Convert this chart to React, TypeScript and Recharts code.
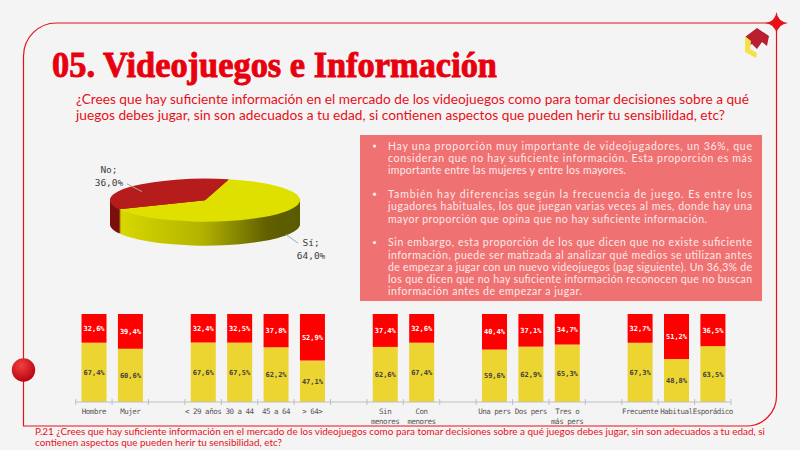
import React from 'react'
import { Bar, BarChart, Cell, LabelList, Pie, PieChart, XAxis, YAxis } from 'recharts'

// categories on the bar axis ('' = spacer between groups)
const groups = [
  'Hombre', 'Mujer', '',
  '< 29 años', '30 a 44', '45 a 64', '> 64>', '',
  'Sin\nmenores', 'Con\nmenores', '',
  'Una pers', 'Dos pers', 'Tres o\nmás pers', '',
  'Frecuente', 'Habitual', 'Esporádico',
]
const siValues = [67.4, 60.6, null, 67.6, 67.5, 62.2, 47.1, null, 62.6, 67.4, null, 59.6, 62.9, 65.3, null, 67.3, 48.8, 63.5]
const noValues = [32.6, 39.4, null, 32.4, 32.5, 37.8, 52.9, null, 37.4, 32.6, null, 40.4, 37.1, 34.7, null, 32.7, 51.2, 36.5]

const pieNames = ['Sí', 'No']
const pieValues = [64.0, 36.0]

const title = '05. Videojuegos e Información'
const question = [
  '¿Crees que hay suficiente información en el mercado de los videojuegos como para tomar decisiones sobre a qué',
  'juegos debes jugar, sin son adecuados a tu edad, si contienen aspectos que pueden herir tu sensibilidad, etc?',
]
const footnote = [
  'P.21 ¿Crees que hay suficiente información en el mercado de los videojuegos como para tomar decisiones sobre a qué juegos debes jugar, sin son adecuados a tu edad, si',
  'contienen aspectos que pueden herir tu sensibilidad, etc?',
]
const bullets = [
  [
    'Hay una proporción muy importante de videojugadores, un 36%, que',
    'consideran que no hay suficiente información. Esta proporción es más',
    'importante entre las mujeres y entre los mayores.',
  ],
  [
    'También hay diferencias según la frecuencia de juego. Es entre los',
    'jugadores habituales, los que juegan varias veces al mes, donde hay una',
    'mayor proporción que opina que no hay suficiente información.',
  ],
  [
    'Sin embargo, esta proporción de los que dicen que no existe suficiente',
    'información, puede ser matizada al analizar qué medios se utilizan antes',
    'de empezar a jugar con un nuevo videojuegos (pag siguiente). Un 36,3% de',
    'los que dicen que no hay suficiente información reconocen que no buscan',
    'información antes de empezar a jugar.',
  ],
]
// right edge of the last (unjustified) line of each bullet
const lastLineEnds = [626, 707, 582]

const RED = '#e8101a'
const YELLOW = '#ecd431'
const BAR_RED = '#ff0000'
const MONO = "'DejaVu Sans Mono', monospace"
const SANS = "Lato, 'Noto Sans', sans-serif"

const barData = groups.map((g, i) => ({ key: `c${i}`, si: siValues[i], no: noValues[i] }))
const pieData = pieNames.map((name, i) => ({ name, value: pieValues[i] }))

const fmtPct = (v: any) => (v == null ? '' : `${Number(v).toFixed(1).replace('.', ',')}%`)

// bar chart geometry
const BAR_W = 800
const BAR_H = 130
const BAR_MARGIN = { top: 14, right: 69, bottom: 0, left: 75.7 }
const BAND = (BAR_W - BAR_MARGIN.left - BAR_MARGIN.right) / groups.length

function GroupTick(props: any) {
  const { x, y, payload } = props
  const idx = Number(String(payload.value).slice(1))
  const lines = groups[idx].split('\n')
  return (
    <g>
      <line x1={x - BAND / 2} x2={x - BAND / 2} y1={y - 3} y2={y + 3} stroke="#bfbfbf" />
      {idx === groups.length - 1 && (
        <line x1={x + BAND / 2} x2={x + BAND / 2} y1={y - 3} y2={y + 3} stroke="#bfbfbf" />
      )}
      {lines.map((l, i) => (
        <text
          key={i}
          x={x}
          y={y + 12 + i * 10}
          textAnchor="middle"
          fontFamily={MONO}
          fontSize={7.5}
          letterSpacing={-0.5}
          fill="#555"
        >
          {l}
        </text>
      ))}
    </g>
  )
}

// 3D-looking pie: flattened with scaleY, side built from stacked darker layers
const PIE_LEFT = 80
const PIE_TOP = 150
const PIE_BOX_W = 240
const PIE_BOX_H = 120
const LABEL_BOX_W = 320
const PIE_CX = 120
const PIE_CY = 49
const PIE_RX = 95
const PIE_RY = 21.5
const PIE_DEPTH = 24
const K = PIE_RY / PIE_RX
const START = -155
const pieTop = ['#e0e000', '#b71c1c']
const pieSide = ['url(#pieSideSi)', '#7c1010']
const layers = Array.from({ length: PIE_DEPTH }, (_, i) => PIE_DEPTH - i)

function PieLabel(p: any) {
  const a = (p.midAngle * Math.PI) / 180
  const cos = Math.cos(a)
  const sin = Math.sin(a)
  const front = sin < 0
  const ex = p.cx + PIE_RX * cos + (front ? 8 : 10)
  const ey = p.cy - PIE_RY * sin * 0.9 + (front ? PIE_DEPTH * 0.75 : 0)
  const lx = p.cx + 125 * cos + (front ? 10 : 0)
  const ly = p.cy - 44 * sin + (front ? 17 : 0)
  const jx = lx + (cos < 0 ? 18 : -13)
  const jy = ly + (front ? -6 : 8)
  return (
    <g>
      <line x1={ex} y1={ey} x2={jx} y2={jy} stroke="#a6a6a6" strokeWidth={1} />
      <text x={lx} y={ly - 3} textAnchor="middle" fontFamily={MONO} fontSize={9.5} fill="#404040">
        {`${p.name};`}
      </text>
      <text x={lx} y={ly + 10} textAnchor="middle" fontFamily={MONO} fontSize={9.5} fill="#404040">
        {fmtPct(p.value)}
      </text>
    </g>
  )
}

function Pie3D() {
  return (
    <div style={{ position: 'absolute', left: PIE_LEFT, top: PIE_TOP, width: LABEL_BOX_W, height: PIE_BOX_H }}>
      <svg width={0} height={0} style={{ position: 'absolute' }}>
        <defs>
          <linearGradient id="pieSideSi" x1="0" x2="1" y1="0" y2="0">
            <stop offset="0" stopColor="#d8d800" />
            <stop offset="0.45" stopColor="#b4b400" />
            <stop offset="0.82" stopColor="#606000" />
            <stop offset="1" stopColor="#5a5a00" />
          </linearGradient>
        </defs>
      </svg>
      <div
        style={{
          position: 'absolute',
          left: 0,
          top: 0,
          transform: `scaleY(${K})`,
          transformOrigin: '0 0',
        }}
      >
        <PieChart width={PIE_BOX_W} height={PIE_BOX_H / K}>
          {layers.map((d) => (
            <Pie
              key={`side${d}`}
              data={pieData}
              dataKey="value"
              nameKey="name"
              cx={PIE_CX}
              cy={PIE_CY / K + d / K}
              outerRadius={PIE_RX}
              startAngle={START}
              endAngle={START + 360}
              stroke="none"
              isAnimationActive={false}
            >
              {pieData.map((e, i) => (
                <Cell key={e.name} fill={pieSide[i]} />
              ))}
            </Pie>
          ))}
          <Pie
            data={pieData}
            dataKey="value"
            nameKey="name"
            cx={PIE_CX}
            cy={PIE_CY / K}
            outerRadius={PIE_RX}
            startAngle={START}
            endAngle={START + 360}
            stroke="none"
            isAnimationActive={false}
          >
            {pieData.map((e, i) => (
              <Cell key={e.name} fill={pieTop[i]} />
            ))}
          </Pie>
        </PieChart>
      </div>
      <div style={{ position: 'absolute', left: 0, top: 0 }}>
        <PieChart width={LABEL_BOX_W} height={PIE_BOX_H}>
          <Pie
            data={pieData}
            dataKey="value"
            nameKey="name"
            cx={PIE_CX}
            cy={PIE_CY}
            outerRadius={PIE_RX}
            startAngle={START}
            endAngle={START + 360}
            fill="none"
            stroke="none"
            label={PieLabel}
            labelLine={false}
            isAnimationActive={false}
          />
        </PieChart>
      </div>
    </div>
  )
}

function Slide() {
  const lineStep = 12.3
  const paraStarts = [149.7, 197.9, 246.2]
  return (
    <svg width={800} height={450} style={{ position: 'absolute', left: 0, top: 0 }}>
      <defs>
        <radialGradient id="dot" cx="0.4" cy="0.3" r="0.75">
          <stop offset="0" stopColor="#f24040" />
          <stop offset="1" stopColor="#b3000e" />
        </radialGradient>
      </defs>
      {/* frame */}
      <path
        d="M23.5,426 L23.5,56 A33,33 0 0 1 56.5,23 L776.5,23 L776.5,396 A30,30 0 0 1 746.5,426 Z"
        fill="none"
        stroke={RED}
        strokeWidth={1.2}
      />
      <circle cx={23.5} cy={370} r={11.7} fill="url(#dot)" />
      <path
        d="M776.5,12 Q777.8,21.7 788,23 Q777.8,24.3 776.5,34 Q775.2,24.3 765,23 Q775.2,21.7 776.5,12 Z"
        fill={RED}
      />
      {/* logo */}
      <polygon points="745,37 757,28 769,36 767,46 762,42 757,49 752,44 748,46" fill="#b91f2e" />
      <polygon points="745,36 751,41 750,49 757,53 756,58 745,52" fill="#f4e14a" />

      <text
        x={52}
        y={77}
        fontFamily="'Liberation Serif', serif"
        fontWeight={700}
        fontSize={36}
        fill="#e8000f"
        stroke="#e8000f"
        strokeWidth={0.9}
        textLength={445}
        lengthAdjust="spacingAndGlyphs"
      >
        {title}
      </text>
      {question.map((q, i) => (
        <text
          key={i}
          x={76}
          y={104 + i * 16}
          fontFamily={SANS}
          fontSize={12.5}
          fill={RED}
          textLength={i === 0 ? 673 : 649}
          lengthAdjust="spacingAndGlyphs"
        >
          {q}
        </text>
      ))}

      <rect x={360} y={135} width={402} height={166} fill="#f07171" />
      {bullets.map((para, pi) =>
        para.map((line, li) => {
          const y = paraStarts[pi] + li * lineStep
          const last = li === para.length - 1
          return (
            <g key={`${pi}-${li}`}>
              {li === 0 && <circle cx={374.5} cy={y - 3.6} r={1.7} fill="#fdeaea" />}
              <text
                x={388}
                y={y}
                fontFamily={SANS}
                fontSize={10.5}
                fill="#fdeaea"
                textLength={last ? lastLineEnds[pi] - 388 : 364}
                lengthAdjust="spacing"
              >
                {line}
              </text>
            </g>
          )
        })
      )}

      {footnote.map((f, i) => (
        <text
          key={i}
          x={35}
          y={434.5 + i * 11}
          fontFamily={SANS}
          fontSize={9.5}
          fill={RED}
          textLength={i === 0 ? 730 : 247}
          lengthAdjust="spacingAndGlyphs"
        >
          {f}
        </text>
      ))}
    </svg>
  )
}

export default function App() {
  return (
    <div
      style={{
        position: 'fixed',
        left: 0,
        top: 0,
        width: 800,
        height: 450,
        background: '#f4f4f4',
        overflow: 'hidden',
      }}
    >
      <Slide />
      <Pie3D />
      <div style={{ position: 'absolute', left: 0, top: 300 }}>
        <BarChart width={BAR_W} height={BAR_H} data={barData} margin={BAR_MARGIN} barCategoryGap="16%">
          <XAxis
            dataKey="key"
            height={28}
            tickLine={false}
            tickSize={0}
            tickMargin={0}
            axisLine={{ stroke: '#bfbfbf' }}
            interval={0}
            tick={<GroupTick />}
          />
          <YAxis hide domain={[0, 100]} />
          <Bar dataKey="si" stackId="a" fill={YELLOW} isAnimationActive={false}>
            <LabelList
              dataKey="si"
              position="center"
              formatter={fmtPct}
              fill="#404040"
              fontFamily={MONO}
              fontSize={7}
              fontWeight={700}
            />
          </Bar>
          <Bar dataKey="no" stackId="a" fill={BAR_RED} isAnimationActive={false}>
            <LabelList
              dataKey="no"
              position="center"
              formatter={fmtPct}
              fill="#ffffff"
              fontFamily={MONO}
              fontSize={7}
              fontWeight={700}
            />
          </Bar>
        </BarChart>
      </div>
    </div>
  )
}
